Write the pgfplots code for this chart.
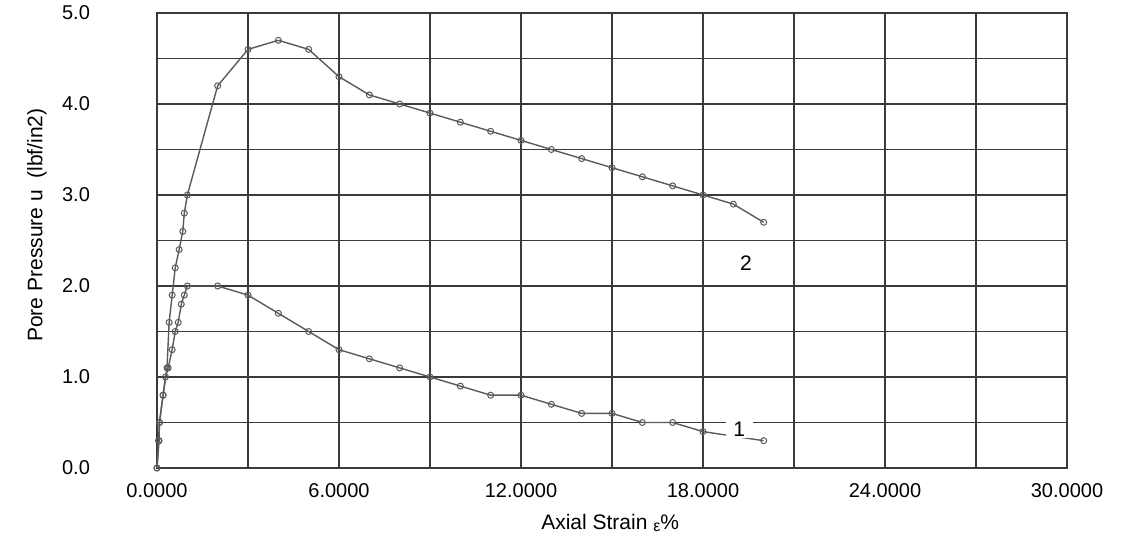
\documentclass[border=0pt]{standalone}
\usepackage{fontspec}
\setmainfont{Liberation Sans}
\usepackage{pgfplots}
\pgfplotsset{compat=1.18}
\usetikzlibrary{calc}
\definecolor{gridc}{HTML}{3A3A3A}
\definecolor{datac}{HTML}{5A5A5A}
\begin{document}
\begin{tikzpicture}
\begin{axis}[
  name=ax,
  scale only axis,
  width=455pt, height=227.5pt,
  xmin=0, xmax=30, ymin=0, ymax=5,
  xtick={0,6,...,30}, minor xtick={3,9,...,27},
  ytick={0,1,...,5}, minor ytick={0.5,1.5,...,4.5},
  grid=both,
  major grid style={gridc, line width=0.6pt},
  minor grid style={gridc, line width=0.6pt},
  axis line style={gridc, line width=0.6pt},
  major tick length=0pt, minor tick length=0pt,
  /pgf/number format/assume math mode=true,
  xticklabel style={/pgf/number format/fixed, /pgf/number format/fixed zerofill, /pgf/number format/precision=4, font=\fontsize{10}{12}\selectfont, yshift=-4pt},
  yticklabel style={/pgf/number format/fixed, /pgf/number format/fixed zerofill, /pgf/number format/precision=1, font=\fontsize{10}{12}\selectfont, xshift=-30pt},
  xlabel={Axial Strain \raisebox{-0.2ex}{\fontsize{8}{9}\selectfont ε}\%},
  ylabel={Pore Pressure u\ \ (lbf/in2)},
  xlabel style={font=\fontsize{10.5}{12}\selectfont, at={($(axis description cs:0.498,0)+(0,-27.5pt)$)}, anchor=center},
  ylabel style={font=\fontsize{10.5}{12}\selectfont, at={($(axis description cs:0,0.534)+(-60pt,0)$)}, anchor=center},
  clip=false,
]
% Curve 2
\addplot[datac, line width=0.7pt, mark=o, mark size=1.5pt, mark options={fill=white, line width=0.5pt}] coordinates {
(0,0) (0.05,0.3) (0.08,0.5) (0.2,0.8) (0.33,1.1) (0.4,1.6) (0.5,1.9) (0.6,2.2) (0.73,2.4) (0.85,2.6) (0.9,2.8) (1.0,3.0)
(2,4.2) (3,4.6) (4,4.7) (5,4.6) (6,4.3) (7,4.1) (8,4.0) (9,3.9) (10,3.8) (11,3.7) (12,3.6) (13,3.5) (14,3.4) (15,3.3) (16,3.2) (17,3.1) (18,3.0) (19,2.9) (20,2.7)
};
% Curve 1
\addplot[datac, line width=0.7pt, mark=o, mark size=1.5pt, mark options={fill=white, line width=0.5pt}] coordinates {
(0,0) (0.07,0.3) (0.08,0.5) (0.2,0.8) (0.28,1.0) (0.37,1.1) (0.5,1.3) (0.6,1.5) (0.7,1.6) (0.8,1.8) (0.9,1.9) (1.0,2.0)
(2,2.0) (3,1.9) (4,1.7) (5,1.5) (6,1.3) (7,1.2) (8,1.1) (9,1.0) (10,0.9) (11,0.8) (12,0.8) (13,0.7) (14,0.6) (15,0.6) (16,0.5) (17,0.5) (18,0.4) (20,0.3)
};
\node[fill=white, inner xsep=3.8pt, inner ysep=1pt, font=\fontsize{10.5}{12}\selectfont] at (axis cs:19.19,0.43) {1};
\node[font=\fontsize{10.5}{12}\selectfont] at (axis cs:19.42,2.25) {2};
\end{axis}
\pgfresetboundingbox
\path ($(ax.south west)+(-78.5pt,-34.5pt)$) rectangle ($(ax.north east)+(35pt,6.5pt)$);
\end{tikzpicture}
\end{document}
